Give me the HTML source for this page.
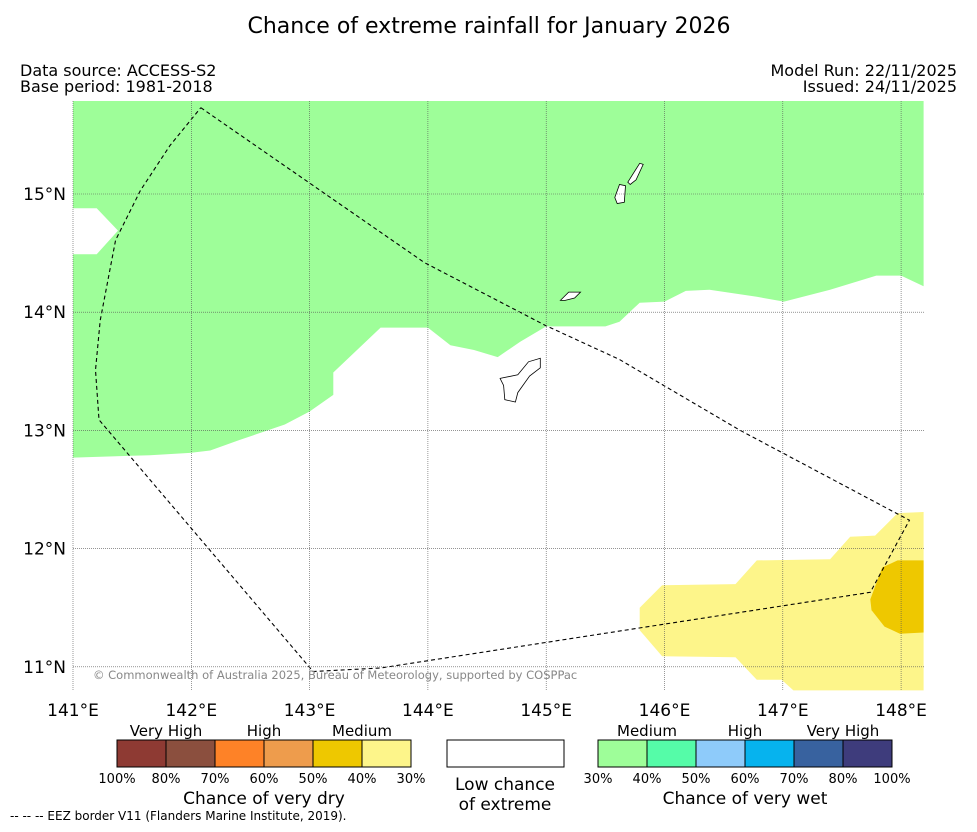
<!DOCTYPE html>
<html><head><meta charset="utf-8"><style>
body{margin:0;background:#fff;font-family:"Liberation Sans","DejaVu Sans",sans-serif;}
svg text{font-family:"DejaVu Sans","Liberation Sans",sans-serif;}
</style></head><body>
<svg id="chart" width="977" height="827" viewBox="0 0 977 827" xmlns="http://www.w3.org/2000/svg">
<text x="489" y="33" font-size="22" text-anchor="middle">Chance of extreme rainfall for January 2026</text>
<text x="20" y="76" font-size="16">Data source: ACCESS-S2</text>
<text x="20" y="92" font-size="16">Base period: 1981-2018</text>
<text x="957" y="76" font-size="16" text-anchor="end">Model Run: 22/11/2025</text>
<text x="957" y="92" font-size="16" text-anchor="end">Issued: 24/11/2025</text>
<g id="map"></g>
<text x="93" y="679" font-size="11.5" fill="#888">© Commonwealth of Australia 2025, Bureau of Meteorology, supported by COSPPac</text>
<g id="legend"></g>
<text x="10" y="820" font-size="12">--  --  -- EEZ border V11 (Flanders Marine Institute, 2019).</text>
</svg>
<script>
const lonTicks=[141,142,143,144,145,146,147,148];
const latTicks=[11,12,13,14,15];
const greenLon=[148.19,148.19,148.0,147.79,147.40,147.01,146.78,146.38,146.18,146.00,145.79,145.62,145.50,145.00,144.78,144.59,144.39,144.19,144.00,143.60,143.20,143.20,143.00,142.79,142.41,142.16,141.99,141.65,141.0,141,141.20,141.38,141.20,141,141];
const greenLat=[15.79,14.22,14.31,14.31,14.19,14.09,14.13,14.19,14.18,14.09,14.08,13.92,13.88,13.88,13.75,13.62,13.68,13.72,13.87,13.87,13.49,13.30,13.16,13.05,12.92,12.83,12.81,12.79,12.77,14.49,14.49,14.69,14.88,14.88,15.79];
const lyLon=[145.79,145.98,146.60,146.78,147.40,147.57,147.78,147.97,148.19,148.19,147.09,146.99,146.78,146.60,145.98,145.79];
const lyLat=[11.50,11.69,11.70,11.90,11.91,12.10,12.11,12.30,12.31,10.80,10.80,10.89,10.89,11.08,11.09,11.31];
const dyLon=[147.84,147.97,148.19,148.19,147.99,147.86,147.75,147.74];
const dyLat=[11.84,11.90,11.90,11.29,11.28,11.34,11.48,11.57];
const eezLon=[142.08,143.97,144.99,145.62,146.64,148.07,147.74,143.60,143.03,141.22,141.19,141.23,141.36,141.57,141.82,142.08];
const eezLat=[15.73,14.42,13.89,13.60,13.00,12.24,11.63,10.99,10.96,13.09,13.51,13.93,14.61,15.03,15.41,15.73];
const guamLon=[144.61,144.76,144.85,144.95,144.95,144.86,144.76,144.74,144.65,144.64];
const guamLat=[13.44,13.47,13.58,13.61,13.53,13.46,13.32,13.24,13.26,13.38];
const rotaLon=[145.12,145.19,145.29,145.24,145.16];
const rotaLat=[14.10,14.17,14.17,14.12,14.10];
const saipanLon=[145.69,145.79,145.82,145.76,145.71];
const saipanLat=[15.10,15.26,15.25,15.12,15.08];
const tinianLon=[145.58,145.62,145.67,145.66,145.60];
const tinianLat=[14.97,15.08,15.07,14.93,14.92];
const dryColors=['#8e3a33','#8b4f3e','#fe8227','#ee9c4c','#eec800','#fdf58a'];
const dryLabels=['100%','80%','70%','60%','50%','40%','30%'];
const wetColors=['#9efe99','#55fca8','#8ecbfa','#06b3ee','#38629f','#3e3c7c'];
const wetLabels=['30%','40%','50%','60%','70%','80%','100%'];

const NS='http://www.w3.org/2000/svg';
const X0=73,X1=924,Y0=101,Y1=691;
const sx=lon=>73+(lon-141)*118.3;
const sy=lat=>194-(lat-15)*118.2;
function mk(tag,attrs,parent){const e=document.createElementNS(NS,tag);for(const k in attrs)e.setAttribute(k,attrs[k]);parent.appendChild(e);return e;}
const map=document.getElementById('map');
const pts=(lo,la)=>lo.map((v,i)=>sx(v).toFixed(1)+','+sy(la[i]).toFixed(1)).join(' ');
const clip=mk('clipPath',{id:'mc'},mk('defs',{},map));
mk('rect',{x:X0,y:Y0,width:X1-X0,height:Y1-Y0},clip);
const g=mk('g',{'clip-path':'url(#mc)'},map);
let p;
p=mk('polygon',{points:pts(greenLon,greenLat),fill:'#9efe99'},g);


p=mk('polygon',{points:pts(lyLon,lyLat),fill:'#fdf58a'},g);


p=mk('polygon',{points:pts(dyLon,dyLat),fill:'#eec800'},g);


lonTicks.forEach(v=>{
 const l=mk('line',{x1:sx(v),x2:sx(v),y1:Y0,y2:Y1,stroke:'#555','stroke-width':0.6,'stroke-dasharray':'1,1'},map);
 
 
 const t=mk('text',{x:sx(v),y:716,'font-size':17,'text-anchor':'middle'},map);t.textContent=v+'°E';
 
 
});
latTicks.forEach(v=>{
 const l=mk('line',{x1:X0,x2:X1,y1:sy(v),y2:sy(v),stroke:'#555','stroke-width':0.6,'stroke-dasharray':'1,1'},map);
 
 
 const t=mk('text',{x:66,y:sy(v)+6,'font-size':17,'text-anchor':'end'},map);t.textContent=v+'°N';
 
 
});
[[guamLon,guamLat,'guam-island'],[rotaLon,rotaLat,'rota-island'],[saipanLon,saipanLat,'saipan-island'],[tinianLon,tinianLat,'tinian-island']].forEach(a=>{
 const e=mk('polygon',{points:pts(a[0],a[1]),fill:'#fff',stroke:'#000','stroke-width':0.8},g);
 
 
});
p=mk('polyline',{points:pts(eezLon,eezLat),fill:'none',stroke:'#000','stroke-width':1.1,'stroke-dasharray':'4,3'},g);



const lg=document.getElementById('legend');
function txt(x,y,s,size,anchor,name){const t=mk('text',{x:x,y:y,'font-size':size,'text-anchor':anchor||'middle'},lg);t.textContent=s;
 
 return t;}
dryColors.forEach((c,i)=>{const r=mk('rect',{x:117+i*49,y:740,width:49,height:27,fill:c,stroke:'#000','stroke-width':1},lg);
 
 });
dryLabels.forEach((s,i)=>txt(117+i*49,783,s,13,'middle','dry-legend-tick'));
wetColors.forEach((c,i)=>{const r=mk('rect',{x:598+i*49,y:740,width:49,height:27,fill:c,stroke:'#000','stroke-width':1},lg);
 
 });
wetLabels.forEach((s,i)=>txt(598+i*49,783,s,13,'middle','wet-legend-tick'));
let r=mk('rect',{x:447,y:740,width:117,height:27,fill:'#fff',stroke:'#000','stroke-width':1},lg);


txt(166,736,'Very High',15,'middle','dry-very-high-label');
txt(264,736,'High',15,'middle','dry-high-label');
txt(362,736,'Medium',15,'middle','dry-medium-label');
txt(647,736,'Medium',15,'middle','wet-medium-label');
txt(745,736,'High',15,'middle','wet-high-label');
txt(843,736,'Very High',15,'middle','wet-very-high-label');
txt(264,804,'Chance of very dry',17,'middle','dry-legend-title');
txt(745,804,'Chance of very wet',17,'middle','wet-legend-title');
txt(505,790,'Low chance',17,'middle','low-chance-label');
txt(505,810,'of extreme',17,'middle','low-chance-label-2');
</script>
</body></html>
